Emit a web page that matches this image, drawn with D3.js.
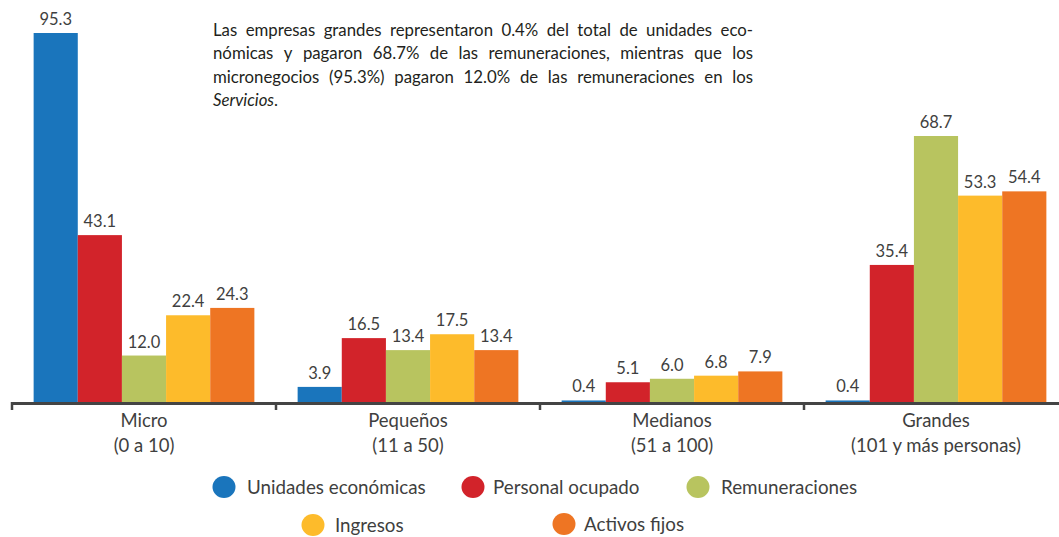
<!DOCTYPE html>
<html>
<head>
<meta charset="utf-8">
<script src="https://cdn.jsdelivr.net/npm/d3@7"></script>
<style>
  body { margin: 0; background: #fff; }
  svg { display: block; font-family: Lato, "Open Sans", sans-serif; }
</style>
</head>
<body>
<div id="chart"></div>
<script>
var groups = ['Micro', 'Pequeños', 'Medianos', 'Grandes'];
var groupSub = ['(0 a 10)', '(11 a 50)', '(51 a 100)', '(101 y más personas)'];
var seriesNames = ['Unidades económicas', 'Personal ocupado', 'Remuneraciones', 'Ingresos', 'Activos fijos'];
var unidades = [95.3, 3.9, 0.4, 0.4];
var personal = [43.1, 16.5, 5.1, 35.4];
var remuneraciones = [12.0, 13.4, 6.0, 68.7];
var ingresos = [22.4, 17.5, 6.8, 53.3];
var activos = [24.3, 13.4, 7.9, 54.4];
var colors = ['#1a75bc', '#d2232a', '#b8c45f', '#fdbb2b', '#ee7523'];

var note = [
    'Las empresas grandes representaron 0.4% del total de unidades eco-',
    'nómicas y pagaron 68.7% de las remuneraciones, mientras que los',
    'micronegocios (95.3%) pagaron 12.0% de las remuneraciones en los'
];

var w = 1059, h = 537;
var baseY = 402;
var textColor = '#3f3f40';

var svg = d3.select('#chart').append('svg')
    .attr('width', w)
    .attr('height', h);

var x0 = d3.scaleBand()
    .domain(groups)
    .range([12, 12 + 264 * 4])
    .padding(0);

var x1 = d3.scaleBand()
    .domain(seriesNames)
    .range([0, x0.bandwidth()])
    .paddingInner(0)
    .paddingOuter(0.49);

var y = d3.scaleLinear()
    .domain([0, 95.3])
    .range([baseY, 33]);

var allSeries = [unidades, personal, remuneraciones, ingresos, activos];
var rows = [];
groups.forEach(function (g, gi) {
    seriesNames.forEach(function (s, si) {
        rows.push({group: g, series: s, value: allSeries[si][gi], color: colors[si]});
    });
});

// bars
svg.append('g').selectAll('rect')
    .data(rows)
    .enter().append('rect')
    .attr('x', function (d) { return x0(d.group) + x1(d.series); })
    .attr('y', function (d) { return y(d.value); })
    .attr('width', x1.bandwidth())
    .attr('height', function (d) { return baseY - y(d.value); })
    .attr('fill', function (d) { return d.color; });

// value labels
svg.append('g').selectAll('text')
    .data(rows)
    .enter().append('text')
    .attr('x', function (d) { return x0(d.group) + x1(d.series) + x1.bandwidth() / 2; })
    .attr('y', function (d) { return y(d.value) - 8; })
    .attr('text-anchor', 'middle')
    .attr('fill', textColor)
    .style('font-size', '16.5px')
    .text(function (d) { return d.value.toFixed(1); });

// axis (line sits just below the bar bottoms)
var axis = svg.append('g')
    .attr('transform', 'translate(0,' + baseY + ')');
axis.append('line')
    .attr('x1', 12).attr('x2', w)
    .attr('y1', 1.5).attr('y2', 1.5)
    .attr('stroke', '#444').attr('stroke-width', 3);
axis.selectAll('line.tick')
    .data(groups)
    .enter().append('line')
    .attr('class', 'tick')
    .attr('x1', function (d) { return x0(d); })
    .attr('x2', function (d) { return x0(d); })
    .attr('y1', 0).attr('y2', 8)
    .attr('stroke', '#444').attr('stroke-width', 2.5);

var lbl = axis.selectAll('text.grp')
    .data(groups)
    .enter().append('text')
    .attr('class', 'grp')
    .attr('text-anchor', 'middle')
    .attr('fill', textColor)
    .style('font-size', '18.5px');
lbl.append('tspan')
    .attr('x', function (d) { return x0(d) + x0.bandwidth() / 2; })
    .attr('y', 25)
    .text(function (d) { return d; });
lbl.append('tspan')
    .attr('x', function (d) { return x0(d) + x0.bandwidth() / 2; })
    .attr('y', 50)
    .text(function (d, i) { return groupSub[i]; });

// annotation, justified
var noteX = 213, noteW = 540, noteY = 36, lineH = 23.4;
var noteG = svg.append('g')
    .attr('fill', '#231f20')
    .style('font-size', '16.8px');
note.forEach(function (line, li) {
    var words = line.split(' ');
    var nodes = words.map(function (wd) {
        return noteG.append('text').attr('y', noteY + li * lineH).text(wd);
    });
    var widths = nodes.map(function (n) { return n.node().getComputedTextLength(); });
    var total = d3.sum(widths);
    var gap = Math.max(2, (noteW - total) / (words.length - 1));
    var cx = noteX;
    nodes.forEach(function (n, i) {
        n.attr('x', cx);
        cx += widths[i] + gap;
    });
});
var last = noteG.append('text')
    .attr('x', noteX)
    .attr('y', noteY + 3 * lineH);
last.append('tspan').style('font-style', 'italic').text('Servicios');
last.append('tspan').text('.');

// legend
var legendPos = [
    {cx: 224, cy: 487, tx: 247},
    {cx: 473, cy: 487, tx: 493},
    {cx: 698, cy: 487, tx: 721},
    {cx: 313, cy: 525, tx: 335},
    {cx: 564, cy: 524, tx: 584}
];
var leg = svg.append('g').selectAll('g')
    .data(seriesNames)
    .enter().append('g');
leg.append('ellipse')
    .attr('cx', function (d, i) { return legendPos[i].cx; })
    .attr('cy', function (d, i) { return legendPos[i].cy; })
    .attr('rx', 11.5).attr('ry', 11)
    .attr('fill', function (d, i) { return colors[i]; });
leg.append('text')
    .attr('x', function (d, i) { return legendPos[i].tx; })
    .attr('y', function (d, i) { return legendPos[i].cy + 7; })
    .attr('fill', textColor)
    .style('font-size', '18.8px')
    .text(function (d) { return d; });
</script>
</body>
</html>
